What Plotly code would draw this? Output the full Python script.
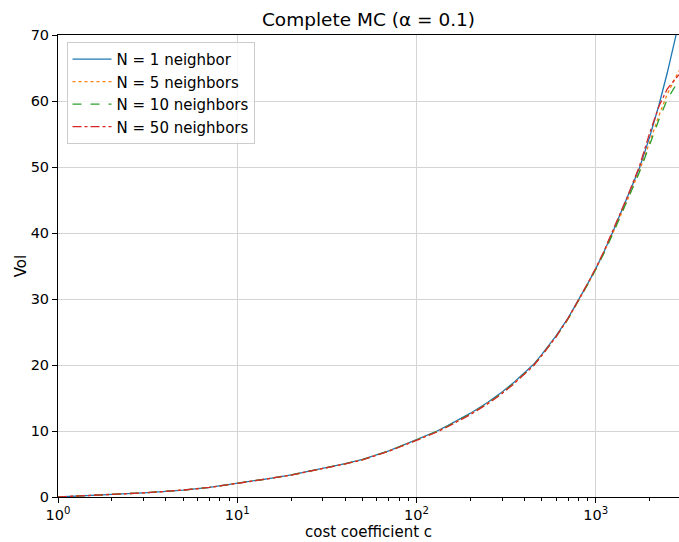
import plotly.graph_objects as go

# cost coefficient grid (log-spaced sampling)
cost = [1, 1.5, 2, 3, 4, 5, 7, 10, 15, 20, 30, 40, 50, 70, 100, 130, 150, 200, 250,
        300, 350, 400, 450, 500, 600, 700, 800, 900, 1000, 1100, 1250, 1500, 1750,
        2000, 2250, 2500, 2750, 2910]

vol_n1 = [0.0, 0.20, 0.36, 0.63, 0.86, 1.05, 1.45, 2.05, 2.80, 3.35, 4.30, 5.05,
          5.70, 7.00, 8.70, 10.00, 10.85, 12.70, 14.35, 15.90, 17.40, 18.80, 20.10,
          21.60, 24.40, 27.10, 29.80, 32.30, 34.60, 36.90, 40.30, 45.30, 49.80,
          54.60, 59.40, 64.20, 68.90, 71.90]
vol_n5 = [0.0, 0.20, 0.36, 0.63, 0.86, 1.05, 1.45, 2.04, 2.79, 3.34, 4.28, 5.03,
          5.67, 6.96, 8.64, 9.92, 10.76, 12.58, 14.22, 15.76, 17.26, 18.66, 19.96,
          21.46, 24.26, 26.98, 29.70, 32.20, 34.50, 36.80, 40.10, 45.00, 49.40,
          53.80, 57.80, 61.00, 63.30, 64.60]
vol_n10 = [0.0, 0.20, 0.36, 0.63, 0.86, 1.05, 1.45, 2.04, 2.79, 3.34, 4.28, 5.03,
           5.67, 6.96, 8.64, 9.92, 10.76, 12.58, 14.22, 15.76, 17.26, 18.66, 19.96,
           21.46, 24.26, 26.98, 29.70, 32.20, 34.50, 36.70, 40.00, 44.90, 49.20,
           53.40, 57.20, 60.20, 62.20, 63.20]
vol_n50 = [0.0, 0.20, 0.36, 0.63, 0.86, 1.05, 1.45, 2.04, 2.78, 3.33, 4.27, 5.01,
           5.64, 6.92, 8.58, 9.85, 10.68, 12.50, 14.14, 15.68, 17.18, 18.60, 19.92,
           21.45, 24.30, 27.05, 29.80, 32.35, 34.70, 37.00, 40.50, 45.50, 50.10,
           55.20, 59.20, 61.80, 63.20, 64.00]

series_names = ["N = 1 neighbor", "N = 5 neighbors", "N = 10 neighbors", "N = 50 neighbors"]
series_vals = [vol_n1, vol_n5, vol_n10, vol_n50]
series_colors = ["#1f77b4", "#ff7f0e", "#2ca02c", "#d62728"]
series_dash = ["solid", "dot", "dash", "dashdot"]

x_tick_vals = [1, 10, 100, 1000]
x_tick_text = ["10<sup>0</sup>", "10<sup>1</sup>", "10<sup>2</sup>", "10<sup>3</sup>"]
y_tick_vals = [0, 10, 20, 30, 40, 50, 60, 70]

FONT = "DejaVu Sans"

fig = go.Figure()
for i, (name, vals, col, dash) in enumerate(zip(series_names, series_vals, series_colors, series_dash)):
    fig.add_trace(go.Scatter(
        x=cost, y=vals, mode="lines", name=name,
        line=dict(color=col, width=1.3, dash=dash),
    ))

minor_vals = [m * 10 ** k for k in range(4) for m in range(2, 10) if m * 10 ** k < 2910]

axis_common = dict(
    showline=True, linecolor="black", linewidth=1, mirror=True,
    ticks="outside", ticklen=5, tickwidth=1, tickcolor="black",
    showgrid=True, gridcolor="#d4d4d4", gridwidth=1,
    zeroline=False,
    tickfont=dict(family=FONT, size=14.5, color="black"),
)

fig.update_xaxes(
    type="log", range=[0, 3.464],
    tickmode="array", tickvals=x_tick_vals, ticktext=x_tick_text,
    minor=dict(tickmode="array", tickvals=minor_vals, ticks="outside", ticklen=3,
               tickwidth=1, tickcolor="black", showgrid=False),
    title=dict(text="cost coefficient c", font=dict(family=FONT, size=15, color="black"), standoff=3),
    **axis_common,
)
fig.update_yaxes(
    range=[0, 70], tickmode="array", tickvals=y_tick_vals,
    title=dict(text="Vol", font=dict(family=FONT, size=15, color="black"), standoff=0),
    **axis_common,
)

fig.update_layout(
    width=679, height=542,
    margin=dict(l=58, r=0, t=35, b=45),
    plot_bgcolor="white", paper_bgcolor="white",
    title=dict(text="Complete MC (α = 0.1)", x=0.5, xref="paper", xanchor="center",
               y=1 - 20 / 542, yref="container", yanchor="middle",
               font=dict(family=FONT, size=18.5, color="black")),
    legend=dict(x=0.0137, y=0.985, xanchor="left", yanchor="top",
                bgcolor="rgba(255,255,255,0.8)", bordercolor="#cccccc", borderwidth=1,
                font=dict(family=FONT, size=15, color="black"),
                itemwidth=39),
    showlegend=True,
)

fig.write_html("out.html")
